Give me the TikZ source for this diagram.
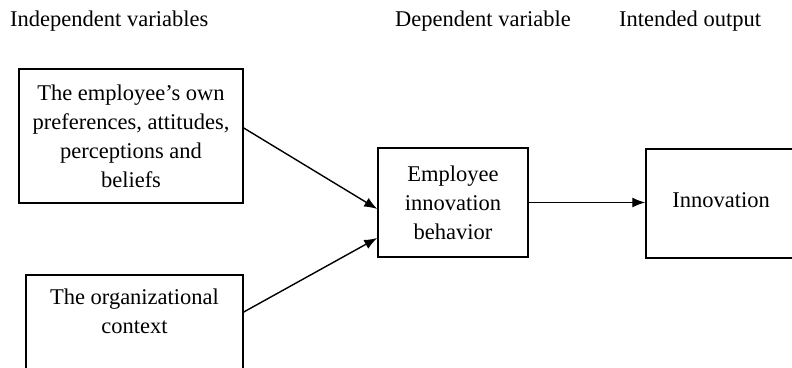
\documentclass[tikz,border=0pt]{standalone}
\usepackage{fontspec}
\setmainfont{Liberation Serif}
\usetikzlibrary{arrows.meta}
\begin{document}
\begin{tikzpicture}[x=1pt,y=-1pt,
  box/.style={draw, line width=1.5pt, inner sep=0pt, align=center,
    font=\fontsize{22.5}{29}\selectfont},
  lbl/.style={font=\fontsize{22.5}{29}\selectfont, inner sep=0pt},
  arr/.style={line width=1.4pt, -{Latex[length=13pt,width=10pt]}}]
\useasboundingbox (0,0) rectangle (792,367);
\node[box, minimum width=224pt, minimum height=134pt] (b1) at (131,136)
  {The employee’s own\\preferences, attitudes,\\perceptions and\\beliefs};
\node[box, minimum width=217pt, minimum height=97pt] (b2) at (134.5,323.5) {};
\node[lbl, align=center] (t2) at (134.5,311) {The organizational\\context};
\node[box, minimum width=150pt, minimum height=109pt] (b3) at (453,202.5)
  {Employee\\innovation\\behavior};
\node[box, minimum width=154pt, minimum height=109pt] (b4) at (723,203.5) {};
\node[lbl] (t4) at (721,200) {Innovation};
\node[lbl, anchor=west] (h1) at (10,21) {Independent variables};
\node[lbl, anchor=west] (h2) at (395,21) {Dependent variable};
\node[lbl, anchor=west] (h3) at (619,21) {Intended output};
\draw[arr] ([yshift=8pt]b1.east) -- ([yshift=-6.5pt]b3.west);
\draw[arr] ([yshift=11.5pt]b2.east) -- ([yshift=-35.5pt]b3.west);
\draw[arr] (b3.east) -- (b3.east -| b4.west);
\end{tikzpicture}
\end{document}
